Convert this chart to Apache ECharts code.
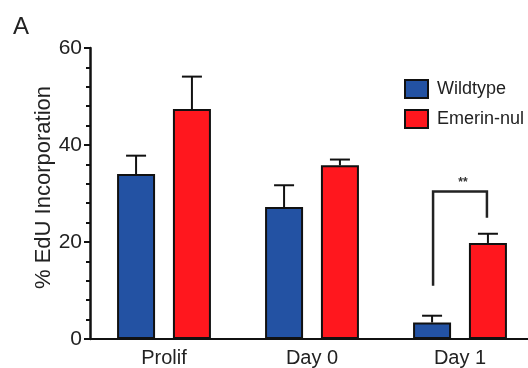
<!DOCTYPE html>
<html>
<head>
<meta charset="utf-8">
<script src="https://cdn.jsdelivr.net/npm/echarts@6/dist/echarts.min.js"></script>
<style>
html,body{margin:0;padding:0;background:#fff;overflow:hidden;}
#chart{width:534px;height:368px;}
</style>
</head>
<body>
<div id="chart"></div>
<script>
var categories = ['Prolif', 'Day 0', 'Day 1'];
var seriesNames = ['Wildtype', 'Emerin-nul'];
var wildtype = [34.0, 27.2, 3.4];
var wildtypeUpper = [37.8, 31.7, 4.8];
var emerin = [47.4, 35.8, 19.8];
var emerinUpper = [54.1, 37.0, 21.7];
var yTicks = [0, 20, 40, 60];
// significance bracket on Day 1: [category index, left end, top, right end]
var bracket = [[2, 11.0, 30.4, 25.0]];
var bracketLabel = '**';

var BAR_W = 38;
var GAP = 0.47;
var offset = (BAR_W + GAP * BAR_W) / 2;
var FONT = '"Liberation Sans", Arial, Helvetica, sans-serif';

function errData(means, uppers) {
  return means.map(function (m, i) { return [i, m, uppers[i]]; });
}
function errRender(sign) {
  return function (params, api) {
    var c0 = api.coord([api.value(0), api.value(1)]);
    var c1 = api.coord([api.value(0), api.value(2)]);
    var x = c0[0] + sign * offset;
    var half = 10;
    return {
      type: 'group',
      children: [
        { type: 'line', shape: { x1: x, y1: c0[1], x2: x, y2: c1[1] }, style: { stroke: '#111', lineWidth: 2 } },
        { type: 'line', shape: { x1: x - half, y1: c1[1], x2: x + half, y2: c1[1] }, style: { stroke: '#111', lineWidth: 2 } }
      ]
    };
  };
}

var chart = echarts.init(document.getElementById('chart'), null, { renderer: 'canvas' });
chart.setOption({
  animation: false,
  backgroundColor: '#fff',
  textStyle: { fontFamily: FONT },
  graphic: [{
    type: 'text', left: 13, top: 15,
    style: { text: 'A', font: '24px ' + FONT, fill: '#222' }
  }],
  legend: {
    orient: 'vertical',
    left: 404, top: 79,
    padding: 0,
    icon: 'rect',
    itemWidth: 23, itemHeight: 18, itemGap: 10,
    textStyle: { fontSize: 18, color: '#222', fontFamily: FONT, padding: [0, 0, 0, 4] },
    data: seriesNames
  },
  grid: { left: 90, top: 48, right: 0, bottom: 27 },
  xAxis: {
    type: 'category',
    data: categories,
    axisLine: { lineStyle: { color: '#111', width: 2 } },
    axisTick: { show: false },
    axisLabel: { fontSize: 20, color: '#222', margin: 9, fontFamily: FONT }
  },
  yAxis: {
    type: 'value',
    min: 0, max: 60, interval: 20,
    name: '% EdU Incorporation',
    nameLocation: 'middle',
    nameRotate: 90,
    nameGap: 46,
    nameMoveOverlap: false,
    nameTextStyle: { fontSize: 22, color: '#222', fontFamily: FONT, verticalAlign: 'middle', padding: [0, 0, 0, 12] },
    axisLine: { show: true, lineStyle: { color: '#111', width: 2.5 } },
    axisTick: { show: true, length: 6, lineStyle: { color: '#111', width: 2 } },
    minorTick: { show: true, splitNumber: 5, length: 4, lineStyle: { color: '#111', width: 2 } },
    splitLine: { show: false },
    axisLabel: {
      fontSize: 21, color: '#222', margin: 8, fontFamily: FONT,
      formatter: function (v) { return yTicks.indexOf(v) >= 0 ? String(v) : ''; }
    }
  },
  series: [
    {
      name: seriesNames[0], type: 'bar', data: wildtype,
      barWidth: BAR_W, barGap: (GAP * 100) + '%',
      itemStyle: { color: '#2352A3', borderColor: '#111', borderWidth: 2 }
    },
    {
      name: seriesNames[1], type: 'bar', data: emerin,
      barWidth: BAR_W, barGap: (GAP * 100) + '%',
      itemStyle: { color: '#FF171E', borderColor: '#111', borderWidth: 2 }
    },
    {
      type: 'custom', name: 'errWT', data: errData(wildtype, wildtypeUpper),
      renderItem: errRender(-1), z: 5, silent: true
    },
    {
      type: 'custom', name: 'errEN', data: errData(emerin, emerinUpper),
      renderItem: errRender(1), z: 5, silent: true
    },
    {
      type: 'custom', name: 'bracket', data: bracket, z: 5, silent: true,
      renderItem: function (params, api) {
        var i = api.value(0);
        var pl = api.coord([i, api.value(1)]);
        var pt = api.coord([i, api.value(2)]);
        var pr = api.coord([i, api.value(3)]);
        var xl = pl[0] - offset + 1;
        var xr = pl[0] + offset - 1;
        return {
          type: 'group',
          children: [
            { type: 'polyline', shape: { points: [[xl, pl[1]], [xl, pt[1]], [xr, pt[1]], [xr, pr[1]]] },
              style: { stroke: '#222', lineWidth: 2.5, fill: null } },
            { type: 'text', style: { text: bracketLabel, x: (xl + xr) / 2 + 3, y: pt[1] - 3,
              font: 'bold 12px ' + FONT, fill: '#333', align: 'center', verticalAlign: 'bottom' } }
          ]
        };
      }
    }
  ]
});
</script>
</body>
</html>
